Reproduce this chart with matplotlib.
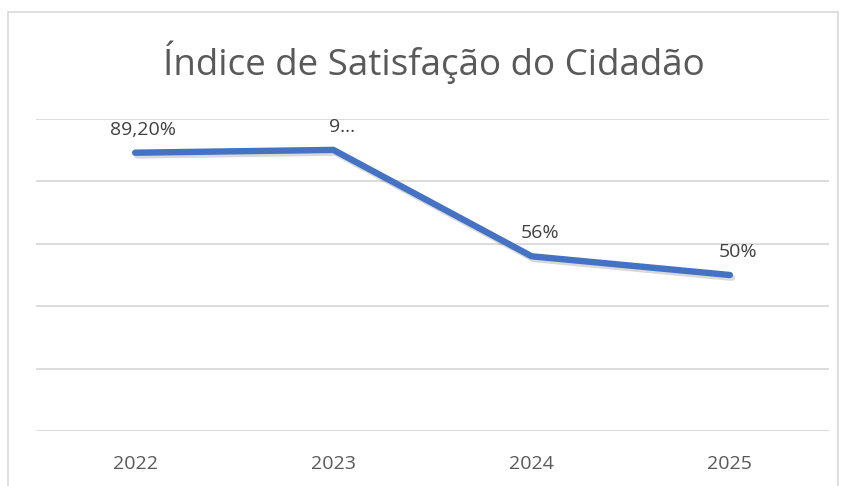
import matplotlib.pyplot as plt
import matplotlib.patheffects as pe
from matplotlib.patches import Rectangle

# data
anos = ['2022', '2023', '2024', '2025']
indice = [89.2, 90.1, 56, 50]
rotulos = ['89,20%', '9…', '56%', '50%']

plt.rcParams['font.family'] = ['Open Sans', 'DejaVu Sans']

fig = plt.figure(figsize=(8.48, 4.86), dpi=100)
ax = fig.add_axes([36/848, 1-431/486, (829-36)/848, (431-119)/486])

x = range(len(anos))
ax.plot(x, indice, color='#4472C4', lw=4.6, solid_capstyle='round', solid_joinstyle='round',
        path_effects=[pe.SimpleLineShadow(offset=(1.5, -2), alpha=0.15, shadow_color='k'), pe.Normal()])

for i, (v, t) in enumerate(zip(indice, rotulos)):
    ax.annotate(t, (i, v), xytext=(6, 10), textcoords='offset points', ha='center', va='bottom',
                fontsize=14, color='#404040')

ax.set_xlim(-0.5, 3.5)
ax.set_ylim(0, 100)
ax.set_yticks([0, 20, 40, 60, 80, 100])
ax.set_yticklabels([])
ax.yaxis.grid(True, color='#D9D9D9', lw=1.3)
ax.set_axisbelow(True)
ax.tick_params(length=0)
ax.set_xticks(list(x))
ax.set_xticklabels(anos, fontsize=14, color='#595959')
ax.tick_params(axis='x', pad=17)
for s in ax.spines.values():
    s.set_visible(False)

fig.text(434/848, 1-62/486, 'Índice de Satisfação do Cidadão', ha='center', va='center',
         fontsize=26.5, color='#595959')

# chart frame
fig.patches.append(Rectangle((8/848, -0.01), 830/848, 1-12/486+0.01, transform=fig.transFigure,
                             fill=False, edgecolor='#D9D9D9', lw=1.2))

fig.savefig('out.png', dpi=100)
